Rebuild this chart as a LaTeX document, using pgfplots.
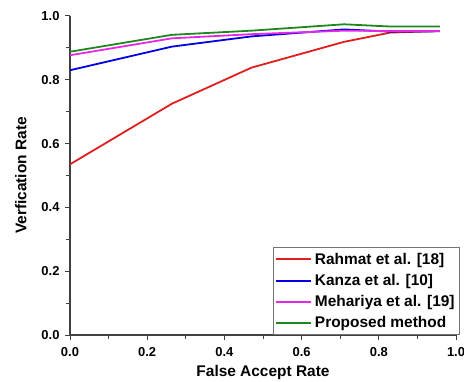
\documentclass[border=0pt]{standalone}
\usepackage{pgfplots}
\pgfplotsset{compat=1.18}
\usepackage{fontspec}
\setmainfont{Liberation Sans}
\definecolor{cred}{RGB}{225,30,30}
\definecolor{cblue}{RGB}{0,0,225}
\definecolor{cmag}{RGB}{230,40,230}
\definecolor{cgreen}{RGB}{30,135,30}
\begin{document}
\begin{tikzpicture}
\begin{axis}[
  name=ax,
  scale only axis,
  width=386bp, height=319bp,
  xmin=0, xmax=1, ymin=0, ymax=1,
  axis lines=left,
  axis line style={-, line width=1.3pt, black!75},
  tick style={line width=1pt, black!75},
  tick align=outside,
  major tick length=5bp,
  minor tick length=3.5bp,
  minor tick num=1,
  xtick={0,0.2,...,1.0},
  ytick={0,0.2,...,1.0},
  /pgf/number format/assume math mode=true,
  /pgf/number format/fixed,
  /pgf/number format/fixed zerofill,
  /pgf/number format/precision=1,
  ticklabel style={font=\fontsize{13}{15}\selectfont\bfseries},
  yticklabel style={xshift=-2bp},
  xticklabel style={yshift=-4bp},
  xlabel={False Accept Rate},
  ylabel={Verfication Rate},
  label style={font=\fontsize{15.5}{17}\selectfont\bfseries},
  xlabel style={yshift=-2bp},
  ylabel style={yshift=8bp},
  legend style={at={(1,0)}, anchor=south east, xshift=4bp, draw=black!55, line width=0.8pt,
    font=\fontsize{15.5}{18}\selectfont\bfseries, inner xsep=2bp, inner ysep=1bp, row sep=0pt,
    nodes={inner xsep=3bp, inner ysep=1.5bp, text height=14bp, text depth=4.2bp},
    cells={anchor=west}},
  legend image code/.code={\draw[mark repeat=2,mark phase=2,#1] plot coordinates {(0bp,0bp) (17.5bp,0bp) (35bp,0bp)};},
  legend image post style={line width=2pt},
]
\addplot[cred, line width=1.8pt] coordinates {(0,0.535) (0.264,0.725) (0.47,0.838) (0.71,0.919) (0.83,0.948) (0.958,0.953)};
\addlegendentry{Rahmat et al. [18]}
\addplot[cblue, line width=1.8pt] coordinates {(0,0.83) (0.264,0.904) (0.47,0.936) (0.71,0.958) (0.83,0.951) (0.958,0.952)};
\addlegendentry{Kanza et al. [10]}
\addplot[cmag, line width=1.8pt] coordinates {(0,0.877) (0.264,0.930) (0.47,0.943) (0.71,0.954) (0.83,0.953) (0.958,0.953)};
\addlegendentry{Mehariya et al. [19]}
\addplot[cgreen, line width=1.8pt] coordinates {(0,0.888) (0.264,0.941) (0.47,0.954) (0.71,0.974) (0.83,0.967) (0.958,0.967)};
\addlegendentry{Proposed method}
\end{axis}
\pgfresetboundingbox
\path[use as bounding box] ([xshift=-70bp,yshift=-47bp]ax.south west) rectangle ([xshift=8bp,yshift=16bp]ax.north east);
\end{tikzpicture}
\end{document}
